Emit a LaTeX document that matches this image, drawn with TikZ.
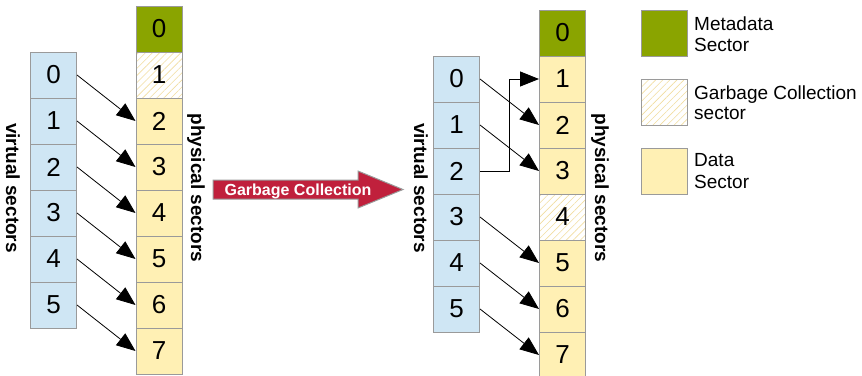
\documentclass[tikz,border=0pt]{standalone}
\usepackage{fontspec}
\setmainfont{Liberation Sans}
\usetikzlibrary{arrows.meta,patterns.meta}

\definecolor{vblue}{HTML}{CFE6F4}
\definecolor{dyellow}{HTML}{FFF0B4}
\definecolor{mgreen}{HTML}{8AA400}
\definecolor{hatch}{HTML}{F2DDA0}
\definecolor{cellborder}{HTML}{9A9A9A}
\definecolor{gcred}{HTML}{C0203C}

\begin{document}
\begin{tikzpicture}[x=1pt,y=-1pt,
  cell/.style={draw=cellborder, line width=1pt, minimum width=46pt,
    minimum height=46pt, inner sep=0pt, font=\fontsize{26}{26}\selectfont},
  vcell/.style={cell, fill=vblue},
  dcell/.style={cell, fill=dyellow},
  mcell/.style={cell, fill=mgreen},
  gcell/.style={cell, preaction={fill=white},
    pattern={Lines[angle=45,distance=5pt,line width=0.6pt]}, pattern color=hatch},
  map/.style={-{Triangle[length=19pt,width=15pt]}, line width=0.8pt},
  sidelabel/.style={rotate=-90, inner sep=0pt, font=\bfseries\fontsize{19}{19}\selectfont},
  legendtext/.style={anchor=base west, inner sep=0pt, font=\fontsize{19}{19}\selectfont}
]
\useasboundingbox (0,0) rectangle (862,375);

% ---- before garbage collection ----
\foreach \j in {0,...,5}
  \node[vcell] (lv\j) at (53.5,{75+46*\j}) {\j};
\node[mcell] (lp0) at (159,29) {0};
\node[gcell] (lp1) at (159,75) {1};
\foreach \i in {2,...,7}
  \node[dcell] (lp\i) at (159,{29+46*\i}) {\i};
\foreach \j [evaluate=\j as \k using int(\j+2)] in {0,...,5}
  \draw[map] (lv\j.east) -- (lp\k.west);
\node[sidelabel] (lvlabel) at (13,188) {virtual sectors};
\node[sidelabel] (lplabel) at (196,188) {physical sectors};

% ---- block arrow ----
\draw[fill=gcred, draw=cellborder, line width=1pt]
  (213,180) -- (358,180) -- (358,171) -- (403,189.5) -- (358,208)
  -- (358,199) -- (213,199) -- cycle;
\node[anchor=base, inner sep=0pt, text=white, font=\bfseries\fontsize{16}{16}\selectfont]
  (gclabel) at (298,195) {Garbage Collection};

% ---- after garbage collection ----
\foreach \j in {0,...,5}
  \node[vcell] (rv\j) at (456.5,{79+46*\j}) {\j};
\node[mcell] (rp0) at (562.5,33) {0};
\foreach \i in {1,2,3,5,6,7}
  \node[dcell] (rp\i) at (562.5,{33+46*\i}) {\i};
\node[gcell] (rp4) at (562.5,217) {4};
\foreach \j/\k in {0/2,1/3,3/5,4/6,5/7}
  \draw[map] (rv\j.east) -- (rp\k.west);
\draw[map] (rv2.east) -- ++(29,0) |- (rp1.west);
\node[sidelabel] (rvlabel) at (421,188) {virtual sectors};
\node[sidelabel] (rplabel) at (600,188) {physical sectors};

% ---- legend ----
\node[mcell] (keymeta) at (664,33) {};
\node[gcell] (keygc) at (664,102) {};
\node[dcell] (keydata) at (664,171) {};
\node[legendtext] (keymeta1) at (694,30.7) {Metadata};
\node[legendtext] (keymeta2) at (694,51.7) {Sector};
\node[legendtext] (keygc1) at (694,99.3) {Garbage Collection};
\node[legendtext] (keygc2) at (694,119.3) {sector};
\node[legendtext] (keydata1) at (694,166.7) {Data};
\node[legendtext] (keydata2) at (694,188) {Sector};
\end{tikzpicture}
\end{document}
